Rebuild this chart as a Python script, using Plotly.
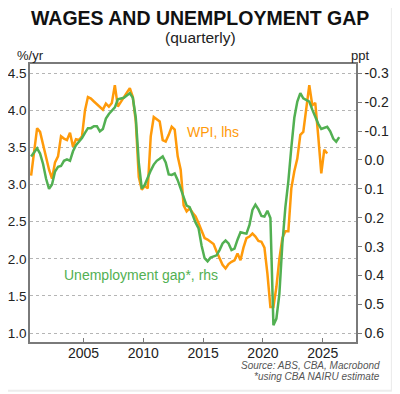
import pandas as pd
import plotly.graph_objects as go

# Quarterly periods (first quarter shown: 2000 Q3)
START_QUARTER = "2000Q3"

# Wage Price Index, %/yr (lhs)
wpi = [3.12, 3.45, 3.76, 3.71, 3.54, 3.37, 3.20, 3.08, 3.30, 3.38,
       3.65, 3.62, 3.60, 3.70, 3.51, 3.61, 3.60, 3.65, 4.00, 4.18,
       4.16, 4.12, 4.08, 4.04, 4.01, 4.09, 4.05, 4.10, 4.34, 4.05,
       4.12, 4.18, 4.24, 4.30, 4.18, 3.85, 3.10, 2.93, 2.98, 2.95,
       3.65, 3.91, 3.88, 3.85, 3.60, 3.58, 3.67, 3.78, 3.74, 3.38,
       3.20, 2.72, 2.64, 2.68, 2.62, 2.57, 2.48, 2.37, 2.28, 2.26,
       2.23, 2.20, 2.10, 2.01, 1.92, 1.87, 1.93, 1.96, 1.98, 2.07,
       1.98, 2.15, 2.28, 2.30, 2.34, 2.30, 2.24, 2.23, 2.15, 1.80,
       1.35, 1.35, 1.62, 2.00, 2.28, 2.37, 2.37, 2.95, 3.18, 3.35,
       3.67, 3.71, 4.02, 4.34, 4.07, 4.10, 3.65, 3.15, 3.47, 3.42]

# Unemployment gap, ppt (rhs, inverted)
ugap = [-0.012, -0.027, -0.040, -0.022, 0.014, 0.065, 0.100, 0.085, 0.040, 0.024,
        0.021, 0.003, -0.002, 0.003, -0.030, -0.051, -0.063, -0.076, -0.094, -0.110,
        -0.110, -0.117, -0.117, -0.099, -0.107, -0.143, -0.159, -0.171, -0.182, -0.210,
        -0.213, -0.215, -0.223, -0.231, -0.215, -0.146, 0.009, 0.099, 0.086, 0.060,
        0.037, 0.016, 0.003, -0.004, -0.012, 0.009, 0.050, 0.052, 0.047, 0.070,
        0.099, 0.127, 0.158, 0.163, 0.191, 0.217, 0.237, 0.297, 0.340, 0.351,
        0.338, 0.335, 0.330, 0.312, 0.289, 0.279, 0.289, 0.312, 0.307, 0.276,
        0.250, 0.253, 0.255, 0.225, 0.173, 0.155, 0.171, 0.194, 0.196, 0.176,
        0.201, 0.572, 0.549, 0.464, 0.291, 0.163, 0.073, -0.043, -0.146, -0.202,
        -0.231, -0.213, -0.207, -0.202, -0.174, -0.146, -0.125, -0.107, -0.110, -0.115,
        -0.099, -0.074, -0.063, -0.079]

x_tick_years = [2005, 2010, 2015, 2020, 2025]
left_ticks = [1.0, 1.5, 2.0, 2.5, 3.0, 3.5, 4.0, 4.5]
right_ticks = [-0.3, -0.2, -0.1, 0.0, 0.1, 0.2, 0.3, 0.4, 0.5, 0.6]

ORANGE = "#FF9A0A"
GREEN = "#52B052"
AXIS = "#7a7a7a"
FONT = "Arial, Liberation Sans, sans-serif"

periods = pd.period_range(START_QUARTER, periods=len(ugap), freq="Q")
dates = [p.start_time + (p.end_time - p.start_time) / 2 for p in periods]

fig = go.Figure()
fig.add_trace(go.Scatter(x=dates[:len(wpi)], y=wpi, mode="lines",
                         line=dict(color=ORANGE, width=2.5), yaxis="y", name="WPI"))
fig.add_trace(go.Scatter(x=dates, y=ugap, mode="lines",
                         line=dict(color=GREEN, width=2.5), yaxis="y2",
                         name="Unemployment gap"))

fig.update_layout(
    width=392, height=386,
    margin=dict(l=22, r=44, t=56, b=52, autoexpand=False),
    paper_bgcolor="white", plot_bgcolor="white",
    showlegend=False,
    font=dict(family=FONT, size=14, color="#222"),
    xaxis=dict(
        type="date", automargin=False,
        range=["2000-07-13", "2027-10-12"],
        tickvals=[pd.Timestamp(f"{y}-01-01") for y in x_tick_years],
        ticktext=[str(y) for y in x_tick_years],
        ticks="inside", ticklen=4, tickcolor=AXIS, tickwidth=1,
        ticklabelstandoff=-3,
        showline=True, linecolor=AXIS, linewidth=1.5, mirror=True,
        showgrid=False, zeroline=False,
        tickfont=dict(size=14, color="#222"),
    ),
    yaxis=dict(
        automargin=False,
        range=[0.879, 4.625],
        tickvals=left_ticks,
        ticktext=[f"{v:.1f}" for v in left_ticks],
        ticks="", showline=True, linecolor=AXIS, linewidth=1.5,
        ticklabelstandoff=-1,
        showgrid=True, gridcolor="#b5b5b5", griddash="dot", gridwidth=1,
        zeroline=False, tickfont=dict(size=13.5, color="#222"),
    ),
    yaxis2=dict(
        automargin=False,
        overlaying="y", side="right",
        range=[0.630, -0.332],
        tickvals=right_ticks,
        ticktext=[f"{v:.1f}" if v != 0 else "0.0" for v in right_ticks],
        ticks="outside", ticklen=4, tickcolor=AXIS,
        showline=True, linecolor=AXIS, linewidth=1.5,
        showgrid=False, zeroline=False,
        tickfont=dict(size=14, color="#222"),
    ),
    annotations=[
        dict(text="<b>WAGES AND UNEMPLOYMENT GAP</b>", xref="paper", yref="paper",
             x=0.523, y=1.165, xanchor="center", yanchor="middle", showarrow=False,
             font=dict(size=19.5, color="#111")),
        dict(text="(quarterly)", xref="paper", yref="paper",
             x=0.523, y=1.094, xanchor="center", yanchor="middle", showarrow=False,
             font=dict(size=15.5, color="#222")),
        dict(text="%/yr", xref="paper", yref="paper",
             x=-0.045, y=1.029, xanchor="left", yanchor="middle", showarrow=False,
             font=dict(size=13, color="#222")),
        dict(text="ppt", xref="paper", yref="paper",
             x=1.045, y=1.029, xanchor="right", yanchor="middle", showarrow=False,
             font=dict(size=13, color="#222")),
        dict(text="WPI, lhs", xref="paper", yref="paper",
             x=0.475, y=0.756, xanchor="left", yanchor="middle", showarrow=False,
             font=dict(size=14, color=ORANGE)),
        dict(text="Unemployment gap*, rhs", xref="paper", yref="paper",
             x=0.098, y=0.241, xanchor="left", yanchor="middle", showarrow=False,
             font=dict(size=14, color=GREEN)),
        dict(text="<i>Source: ABS, CBA, Macrobond</i>", xref="paper", yref="paper",
             x=1.08, y=-0.083, xanchor="right", yanchor="middle", showarrow=False,
             font=dict(size=10, color="#555")),
        dict(text="<i>*using CBA NAIRU estimate</i>", xref="paper", yref="paper",
             x=1.08, y=-0.125, xanchor="right", yanchor="middle", showarrow=False,
             font=dict(size=10, color="#555")),
    ],
    shapes=[
        dict(type="line", xref="paper", yref="paper", x0=1.110, x1=1.110,
             y0=-0.175, y1=1.22, line=dict(color="#ececec", width=2)),
        dict(type="line", xref="paper", yref="paper", x0=-0.1, x1=1.110,
             y0=-0.175, y1=-0.175, line=dict(color="#ececec", width=2)),
    ],
)

fig.write_html("out.html")
